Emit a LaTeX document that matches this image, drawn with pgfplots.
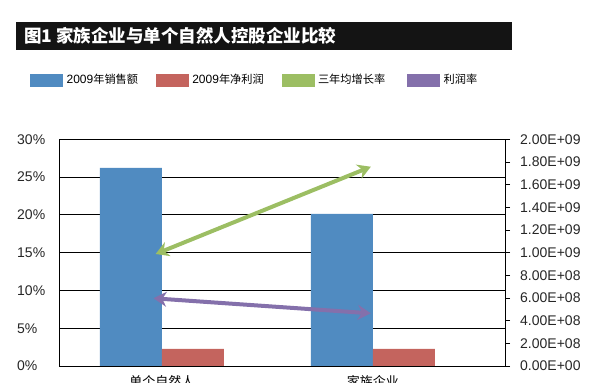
\documentclass[border=0pt]{standalone}
\usepackage{pgfplots}
\pgfplotsset{compat=1.18}
\usetikzlibrary{arrows.meta}
\usepackage{fontspec}
\setmainfont{Liberation Sans}
\newfontfamily\cjk{Noto Sans CJK SC}
\newcommand{\lc}[1]{{\cjk\fontsize{11.2}{13}\selectfont #1}}
\newcommand{\lent}[1]{\hspace{4pt}\makebox[89.3pt][l]{#1}}
\definecolor{cblue}{HTML}{508BC1}
\definecolor{cred}{HTML}{C4645E}
\definecolor{cgreen}{HTML}{9CBE63}
\definecolor{cpurple}{HTML}{8470AB}
\begin{document}
\begin{tikzpicture}[x=1pt,y=1pt]
\path[use as bounding box] (0,0) rectangle (601,382);
\fill[black!92] (16,332) rectangle (512,360);
\node[anchor=west, text=white, inner sep=0pt, font=\cjk\bfseries\fontsize{17.5}{20}\selectfont] at (24,346) {图1 家族企业与单个自然人控股企业比较};
% left axis with grid
\begin{axis}[
  at={(59pt,16pt)}, anchor=south west, scale only axis,
  width=446pt, height=226.7pt,
  xmin=-0.488, xmax=1.626, ymin=0, ymax=30,
  axis x line*=bottom, axis y line*=left,
  axis line style={-, black, line width=0.8pt},
  every outer x axis line/.append style={-},
  every outer y axis line/.append style={-},
  ytick={0,5,10,15,20,25,30},
  yticklabels={0\%,5\%,10\%,15\%,20\%,25\%,30\%},
  ymajorgrids, grid style={black, line width=0.8pt},
  major tick length=0pt,
  xtick={0,1}, xticklabels={单个自然人,家族企业},
  yticklabel style={anchor=west, inner sep=0pt, xshift=-42pt, font=\fontsize{14}{16}\selectfont, text=black!85},
  xticklabel style={anchor=north, inner sep=0pt, yshift=-9pt, font=\cjk\fontsize{13}{15}\selectfont},
]
\end{axis}
% right axis with bars
\begin{axis}[
  at={(59pt,16pt)}, anchor=south west, scale only axis,
  width=446pt, height=226.7pt,
  xmin=-0.488, xmax=1.626, ymin=0, ymax=2e9,
  axis x line=none, axis y line*=right,
  axis line style={-, black, line width=0.8pt},
  every outer y axis line/.append style={-},
  ybar=0pt, bar width=62pt,
  scaled y ticks=false,
  ytick={0,2e8,4e8,6e8,8e8,1e9,1.2e9,1.4e9,1.6e9,1.8e9,2e9},
  yticklabels={0.00E+00,2.00E+08,4.00E+08,6.00E+08,8.00E+08,1.00E+09,1.20E+09,1.40E+09,1.60E+09,1.80E+09,2.00E+09},
  tick align=outside, major tick length=5pt,
  tick style={black, line width=0.8pt},
  yticklabel style={anchor=west, inner sep=0pt, xshift=10pt, font=\fontsize{14}{16}\selectfont, text=black!85},
]
\addplot[fill=cblue, draw=none] coordinates {(0,1.747e9) (1,1.341e9)};
\addplot[fill=cred, draw=none] coordinates {(0,1.5e8) (1,1.5e8)};
\end{axis}
% lines on percentage scale + legend
\begin{axis}[
  at={(59pt,16pt)}, anchor=south west, scale only axis,
  width=446pt, height=226.7pt,
  xmin=-0.488, xmax=1.626, ymin=0, ymax=30,
  hide axis, clip=false,
  legend columns=4,
  legend style={at={(-0.065,1.2616)}, anchor=west, draw=none, fill=none, inner sep=0pt,
    nodes={inner sep=0pt}, font=\fontsize{12}{14}\selectfont, column sep=0pt,
    /tikz/every even column/.append style={column sep=0pt},
    /tikz/every odd column/.append style={column sep=0pt}},
]
\addplot[cgreen, line width=4pt, {Stealth[length=13pt,width=15pt]}-{Stealth[length=13pt,width=15pt]}, forget plot]
  coordinates {(-0.03,14.82) (0.99,26.37)};
\addplot[cpurple, line width=4pt, {Stealth[length=13pt,width=15pt]}-{Stealth[length=13pt,width=15pt]}, forget plot]
  coordinates {(-0.04,8.96) (0.99,6.97)};
\addlegendimage{legend image code/.code={\fill[cblue] (0pt,-6pt) rectangle (32pt,6pt);}}
\addlegendentry{\lent{2009\lc{年销售额}}}
\addlegendimage{legend image code/.code={\fill[cred] (0pt,-6pt) rectangle (32pt,6pt);}}
\addlegendentry{\lent{2009\lc{年净利润}}}
\addlegendimage{legend image code/.code={\fill[cgreen] (0pt,-6pt) rectangle (32pt,6pt);}}
\addlegendentry{\lent{\lc{三年均增长率}}}
\addlegendimage{legend image code/.code={\fill[cpurple] (0pt,-6pt) rectangle (32pt,6pt);}}
\addlegendentry{\lent{\lc{利润率}}}
\end{axis}
\end{tikzpicture}
\end{document}
